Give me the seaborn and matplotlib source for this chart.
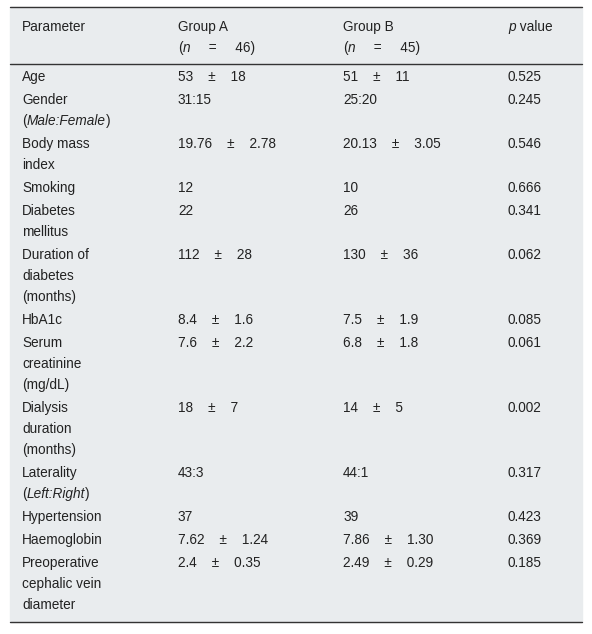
import matplotlib
matplotlib.use("Agg")
import matplotlib.pyplot as plt
import seaborn as sns

sns.set_theme(style="white")
plt.rcParams['font.family'] = ['Liberation Sans', 'DejaVu Sans']

# segments wrapped in * * are drawn in italics
headers = ["Parameter", "Group A\n(*n*     =     46)", "Group B\n(*n*     =     45)", "*p* value"]
parameters = ["Age", "Gender\n(*Male:Female*)", "Body mass\nindex", "Smoking",
              "Diabetes\nmellitus", "Duration of\ndiabetes\n(months)", "HbA1c",
              "Serum\ncreatinine\n(mg/dL)", "Dialysis\nduration\n(months)",
              "Laterality\n(*Left:Right*)", "Hypertension", "Haemoglobin",
              "Preoperative\ncephalic vein\ndiameter"]
group_a = ["53    ±    18", "31:15", "19.76    ±    2.78", "12", "22", "112    ±    28",
           "8.4    ±    1.6", "7.6    ±    2.2", "18    ±    7", "43:3", "37",
           "7.62    ±    1.24", "2.4    ±    0.35"]
group_b = ["51    ±    11", "25:20", "20.13    ±    3.05", "10", "26", "130    ±    36",
           "7.5    ±    1.9", "6.8    ±    1.8", "14    ±    5", "44:1", "39",
           "7.86    ±    1.30", "2.49    ±    0.29"]
p_values = ["0.525", "0.245", "0.546", "0.666", "0.341", "0.062", "0.085", "0.061",
            "0.002", "0.317", "0.423", "0.369", "0.185"]

col_x = [22, 178, 343, 508]
line_h = 21
fs = 9.8

fig = plt.figure(figsize=(5.92, 6.34), dpi=100)
ax = fig.add_axes([0, 0, 1, 1])
ax.set_xlim(0, 592)
ax.set_ylim(634, 0)
ax.axis('off')
renderer = fig.canvas.get_renderer()

ax.add_patch(plt.Rectangle((10, 7), 572, 615, color='#e9ecee', zorder=0))
for y in (7, 64, 622):
    ax.plot([10, 582], [y, y], color='#333333', lw=1)

def put_line(x, y, s):
    parts = s.split("*")
    for i, part in enumerate(parts):
        if not part:
            continue
        t = ax.text(x, y, part, fontsize=fs, va='center', ha='left', color='#222222',
                    style='italic' if i % 2 else 'normal')
        x += t.get_window_extent(renderer).width

def put(x, y, s):
    for i, line in enumerate(s.split("\n")):
        put_line(x, y + i * line_h, line)

for x, h in zip(col_x, headers):
    put(x, 27, h)

y = 77
for p, a, b, pv in zip(parameters, group_a, group_b, p_values):
    for x, s in zip(col_x, (p, a, b, pv)):
        put(x, y, s)
    y += line_h * (p.count("\n") + 1) + 2

fig.savefig("out.png", dpi=100)
